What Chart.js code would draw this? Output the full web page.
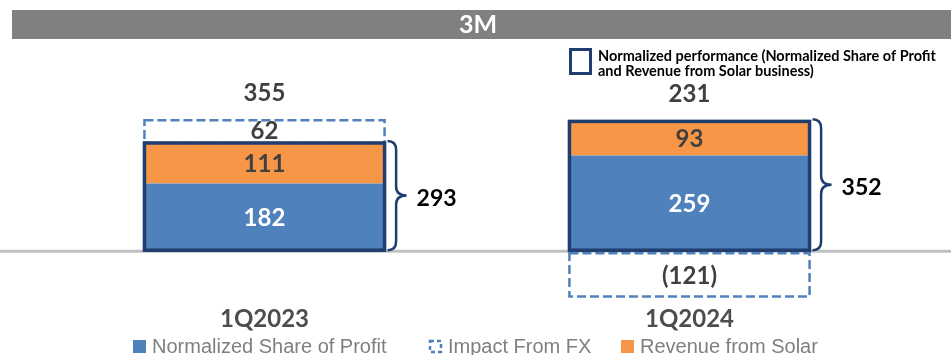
<!DOCTYPE html>
<html>
<head>
<meta charset="utf-8">
<script src="https://cdn.jsdelivr.net/npm/chart.js@4"></script>
<style>
  html, body { margin: 0; padding: 0; background: #ffffff; overflow: hidden; }
  #wrap { width: 951px; height: 355px; position: relative; }
</style>
</head>
<body>
<div id="wrap"><canvas id="c" width="951" height="355"></canvas></div>
<script>
// Quarterly results (3M), stacked: share of profit + solar revenue, plus FX impact
const categories = ['1Q2023', '1Q2024'];
const shareOfProfit = [182, 259];
const solarRevenue = [111, 93];
const fxImpact = [62, -121];
const seriesNames = ['Normalized Share of Profit', 'Impact From FX', 'Revenue from Solar'];
const panelTitle = '3M';
const normalizedNote = ['Normalized performance (Normalized Share of Profit', 'and Revenue from Solar business)'];

const BLUE = '#4f81bd';
const ORANGE = '#f79646';
const NAVY = '#1f3d6e';
const FX_BLUE = '#4f81bd';
const NUM_FONT = 'bold 24px Lato, "Open Sans", sans-serif';

function fmt(v) {
  return v < 0 ? '(' + Math.abs(v) + ')' : String(v);
}

function brace(ctx, x0, top, bottom, w) {
  const mid = (top + bottom) / 2;
  const xm = x0 + w * 0.45;
  const r = 9;
  ctx.beginPath();
  ctx.moveTo(x0, top);
  ctx.quadraticCurveTo(xm, top, xm, top + r);
  ctx.lineTo(xm, mid - r);
  ctx.quadraticCurveTo(xm, mid, x0 + w, mid);
  ctx.quadraticCurveTo(xm, mid, xm, mid + r);
  ctx.lineTo(xm, bottom - r);
  ctx.quadraticCurveTo(xm, bottom, x0, bottom);
  ctx.stroke();
}

const overlay = {
  id: 'overlay',
  beforeDraw(chart) {
    const ctx = chart.ctx;
    ctx.save();
    // title band
    ctx.fillStyle = '#808080';
    ctx.fillRect(12, 10, 939, 29);
    ctx.fillStyle = '#ffffff';
    ctx.font = 'bold 25px Lato, "Open Sans", sans-serif';
    ctx.textAlign = 'center';
    ctx.textBaseline = 'middle';
    ctx.fillText(panelTitle, 478, 25);

    // note box for the normalized outline
    ctx.strokeStyle = NAVY;
    ctx.lineWidth = 3;
    ctx.strokeRect(570.5, 49.5, 20, 24);
    ctx.fillStyle = '#000000';
    ctx.font = 'bold 14.5px Lato, "Open Sans", sans-serif';
    ctx.textAlign = 'left';
    ctx.fillText(normalizedNote[0], 598, 56);
    ctx.fillText(normalizedNote[1], 598, 71);

    // zero line
    const y0 = chart.scales.y.getPixelForValue(0);
    ctx.strokeStyle = '#c0c0c0';
    ctx.lineWidth = 3;
    ctx.beginPath();
    ctx.moveTo(0, y0 + 1);
    ctx.lineTo(951, y0 + 1);
    ctx.stroke();
    ctx.restore();
  },
  afterDatasetsDraw(chart) {
    const ctx = chart.ctx;
    const blue = chart.getDatasetMeta(0).data;
    const orange = chart.getDatasetMeta(1).data;
    const fx = chart.getDatasetMeta(2).data;
    ctx.save();
    ctx.textAlign = 'center';
    ctx.textBaseline = 'middle';

    categories.forEach((cat, i) => {
      const b = blue[i], o = orange[i], f = fx[i];
      const left = b.x - b.width / 2;
      const right = b.x + b.width / 2;

      // FX impact: dashed frame
      ctx.setLineDash([9, 4]);
      ctx.strokeStyle = FX_BLUE;
      ctx.lineWidth = 2.5;
      const fTop = Math.min(f.y, f.base);
      const fBot = Math.max(f.y, f.base);
      const inset = fxImpact[i] < 0 ? 3 : 0;
      ctx.strokeRect(left, fTop + inset, b.width, fBot - fTop - inset + (fxImpact[i] < 0 ? 2 : 0));
      ctx.setLineDash([]);

      // normalized performance outline
      ctx.strokeStyle = NAVY;
      ctx.lineWidth = 3.5;
      ctx.strokeRect(left, o.y, b.width, b.base - o.y);

      // segment labels
      ctx.font = NUM_FONT;
      ctx.fillStyle = '#ffffff';
      ctx.fillText(String(shareOfProfit[i]), b.x, (b.y + b.base) / 2 + 1);
      ctx.fillStyle = '#404040';
      ctx.fillText(String(solarRevenue[i]), o.x, (o.y + o.base) / 2 + 1);
      ctx.fillText(fmt(fxImpact[i]), f.x, (fTop + fBot) / 2 + (fxImpact[i] < 0 ? 4 : 0));

      // brace with the normalized total
      const normalized = shareOfProfit[i] + solarRevenue[i];
      ctx.strokeStyle = NAVY;
      ctx.lineWidth = 2.5;
      brace(ctx, right + 3, o.y - 2, b.base, 19);
      ctx.fillStyle = '#000000';
      ctx.font = 'bold 23px Lato, "Open Sans", sans-serif';
      ctx.textAlign = 'left';
      ctx.fillText(String(normalized), right + 32, (o.y + b.base) / 2 + 2);
      ctx.textAlign = 'center';
      ctx.font = NUM_FONT;

      // reported total above the stack
      const total = normalized + fxImpact[i];
      const top = Math.min(o.y, f.y);
      ctx.fillStyle = '#404040';
      ctx.fillText(String(total), b.x, top - 27);

      // category label
      ctx.fillStyle = '#4d4d4d';
      ctx.fillText(cat, b.x, 319);
    });

    // legend
    ctx.textAlign = 'left';
    ctx.font = '20px "Liberation Sans", Arial, sans-serif';
    const items = [
      { x: 133, kind: 'fill', color: BLUE, label: seriesNames[0] },
      { x: 429, kind: 'dash', color: FX_BLUE, label: seriesNames[1] },
      { x: 621, kind: 'fill', color: ORANGE, label: seriesNames[2] }
    ];
    items.forEach(it => {
      if (it.kind === 'fill') {
        ctx.fillStyle = it.color;
        ctx.fillRect(it.x, 340, 13, 13);
      } else {
        ctx.strokeStyle = it.color;
        ctx.lineWidth = 2.5;
        ctx.setLineDash([4, 3]);
        ctx.strokeRect(it.x + 1, 341, 11, 11);
        ctx.setLineDash([]);
      }
      ctx.fillStyle = '#7f7f7f';
      ctx.fillText(it.label, it.x + 19, 347);
    });
    ctx.restore();
  }
};

new Chart(document.getElementById('c'), {
  type: 'bar',
  data: {
    labels: categories,
    datasets: [
      { label: seriesNames[0], data: shareOfProfit, backgroundColor: BLUE, borderWidth: 0 },
      { label: seriesNames[2], data: solarRevenue, backgroundColor: ORANGE, borderWidth: 0 },
      { label: seriesNames[1], data: fxImpact, backgroundColor: 'rgba(0,0,0,0)', borderWidth: 0 }
    ]
  },
  options: {
    responsive: false,
    animation: false,
    layout: { padding: { left: 52, right: 49, top: 50, bottom: 25 } },
    datasets: { bar: { categoryPercentage: 1, barPercentage: 0.565 } },
    scales: {
      x: { display: false, stacked: true },
      y: { display: false, stacked: true, min: -218, max: 547 }
    },
    plugins: { legend: { display: false }, tooltip: { enabled: false } }
  },
  plugins: [overlay]
});
</script>
</body>
</html>
